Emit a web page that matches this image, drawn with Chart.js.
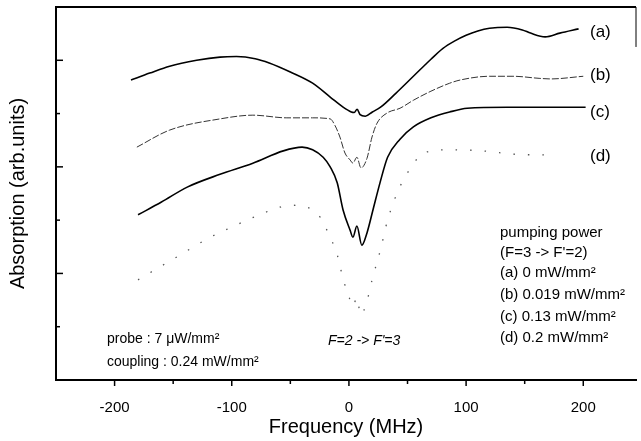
<!DOCTYPE html>
<html>
<head>
<meta charset="utf-8">
<script src="https://cdn.jsdelivr.net/npm/chart.js@4.4.0/dist/chart.umd.min.js"></script>
<style>
  body { margin: 0; background: #fff; }
</style>
</head>
<body>
<canvas id="grafico" width="641" height="441"></canvas>
<script>
// curva (a) 0 mW/mm2
const frecuencia_a = [-186, -170, -153, -130, -110, -96, -80, -68, -50, -31, -16, -5, 2, 4.5, 7, 9.5, 14, 20, 27, 40, 55, 70, 80, 90, 100, 110, 120, 135, 148, 155, 167.5, 180, 196]
const absorcion_a = [5.63, 5.76, 5.89, 6.00, 6.06, 6.07, 6.03, 5.95, 5.78, 5.57, 5.31, 5.12, 5.03, 5.02, 5.08, 4.98, 4.95, 5.03, 5.12, 5.38, 5.70, 6.02, 6.22, 6.36, 6.47, 6.55, 6.60, 6.62, 6.57, 6.51, 6.44, 6.51, 6.59]
// curva (b) 0.019 mW/mm2
const frecuencia_b = [-181, -153, -110, -82, -53, -31, -16, -12, -7.7, -3.4, 1, 3.4, 6.8, 10.3, 15.4, 19.7, 24, 32.5, 43.6, 55, 70, 86, 95, 120, 140, 163, 172, 200]
const absorcion_b = [4.37, 4.69, 4.90, 4.97, 4.92, 4.92, 4.90, 4.78, 4.56, 4.26, 4.13, 4.07, 4.18, 3.98, 4.16, 4.56, 4.82, 5.01, 5.10, 5.25, 5.42, 5.57, 5.63, 5.70, 5.70, 5.66, 5.65, 5.70]
// curva (c) 0.13 mW/mm2
const frecuencia_c = [-180, -160, -138, -110, -82, -56, -40, -31, -22, -16, -10, -5, 1, 3.4, 6.8, 11, 15.4, 20.5, 26.5, 33, 43.6, 55, 70, 86, 101, 135, 170, 202]
const absorcion_c = [3.10, 3.34, 3.62, 3.86, 4.07, 4.30, 4.37, 4.32, 4.18, 4.00, 3.70, 3.19, 2.81, 2.68, 2.89, 2.53, 2.76, 3.19, 3.70, 4.18, 4.52, 4.75, 4.92, 5.03, 5.10, 5.12, 5.12, 5.12]
// curva (d) 0.2 mW/mm2
const frecuencia_d = [-180, -160, -143, -120, -100, -89, -66, -50, -37, -26, -22, -16, -10, -5, 1, 3.4, 6.8, 10, 15, 20, 27, 33, 44, 55, 62, 84, 114, 139, 174]
const absorcion_d = [1.88, 2.14, 2.36, 2.66, 2.87, 2.98, 3.19, 3.28, 3.25, 3.10, 2.95, 2.68, 2.35, 1.90, 1.50, 1.38, 1.55, 1.22, 1.45, 1.90, 2.45, 3.00, 3.65, 4.05, 4.24, 4.32, 4.30, 4.24, 4.22]

const ticks_x_mayores = [-200, -100, 0, 100, 200]
const ticks_x_menores = [-150, -50, 50, 150]
const ticks_y_mayores = [2, 4, 6]
const ticks_y_menores = [1, 3, 5]

const etiquetas_curvas = ["(a)", "(b)", "(c)", "(d)"]
const posicion_etiquetas = [32, 75, 112, 156]
const texto_bombeo = ["pumping power", "(F=3 -> F'=2)", "(a) 0 mW/mm²", "(b) 0.019 mW/mm²", "(c) 0.13 mW/mm²", "(d) 0.2 mW/mm²"]
const posicion_bombeo = [233, 253, 273, 295, 317, 338]
const texto_sonda = ["probe : 7 μW/mm²", "coupling : 0.24 mW/mm²"]
const posicion_sonda = [339, 362]
const texto_transicion = "F=2 -> F'=3"

const fuente = '"Liberation Sans", Arial, Helvetica, sans-serif'

function hacer_puntos(xs, ys) {
    var puntos = []
    for (var i = 0; i < xs.length; i++) {
        puntos.push({ x: xs[i], y: ys[i] })
    }
    return puntos
}

const extras = {
    id: 'extras',
    afterDatasetsDraw(chart) {
        const ctx = chart.ctx
        const area = chart.chartArea
        const sx = chart.scales.x
        const sy = chart.scales.y
        ctx.save()
        ctx.strokeStyle = '#000'
        ctx.fillStyle = '#000'

        // marco de arriba y pedazo del lado derecho
        ctx.lineWidth = 2
        ctx.beginPath()
        ctx.moveTo(area.left, area.top)
        ctx.lineTo(area.right, area.top)
        ctx.stroke()
        ctx.lineWidth = 1
        ctx.beginPath()
        ctx.moveTo(area.right, area.top)
        ctx.lineTo(area.right, sy.getPixelForValue(6.25))
        ctx.stroke()

        // ticks del eje y hacia adentro
        ctx.lineWidth = 1.5
        for (const v of ticks_y_mayores) {
            const py = sy.getPixelForValue(v)
            ctx.beginPath(); ctx.moveTo(area.left, py); ctx.lineTo(area.left + 7, py); ctx.stroke()
        }
        for (const v of ticks_y_menores) {
            const py = sy.getPixelForValue(v)
            ctx.beginPath(); ctx.moveTo(area.left, py); ctx.lineTo(area.left + 4, py); ctx.stroke()
        }
        // ticks del eje x hacia afuera
        for (const v of ticks_x_mayores) {
            const px = sx.getPixelForValue(v)
            ctx.beginPath(); ctx.moveTo(px, area.bottom); ctx.lineTo(px, area.bottom + 6); ctx.stroke()
        }
        for (const v of ticks_x_menores) {
            const px = sx.getPixelForValue(v)
            ctx.beginPath(); ctx.moveTo(px, area.bottom); ctx.lineTo(px, area.bottom + 4); ctx.stroke()
        }

        ctx.textBaseline = 'middle'
        ctx.textAlign = 'left'
        ctx.font = '17px ' + fuente
        for (var i = 0; i < etiquetas_curvas.length; i++) {
            ctx.fillText(etiquetas_curvas[i], 590, posicion_etiquetas[i])
        }
        ctx.font = '15px ' + fuente
        for (var i = 0; i < texto_bombeo.length; i++) {
            ctx.fillText(texto_bombeo[i], 500, posicion_bombeo[i])
        }
        ctx.font = '14px ' + fuente
        for (var i = 0; i < texto_sonda.length; i++) {
            ctx.fillText(texto_sonda[i], 107, posicion_sonda[i])
        }
        ctx.font = 'italic 14px ' + fuente
        ctx.fillText(texto_transicion, 328, 341)
        ctx.restore()
    }
}

function crear_grafico() {
    const $grafica = document.querySelector('#grafico')
    new Chart($grafica, {
        type: 'line',
        data: {
            datasets: [
                { label: '(a)', data: hacer_puntos(frecuencia_a, absorcion_a), borderColor: '#000', borderWidth: 1.6 },
                { label: '(b)', data: hacer_puntos(frecuencia_b, absorcion_b), borderColor: '#333', borderWidth: 1, borderDash: [7, 2] },
                { label: '(c)', data: hacer_puntos(frecuencia_c, absorcion_c), borderColor: '#000', borderWidth: 1.6 },
                { label: '(d)', data: hacer_puntos(frecuencia_d, absorcion_d), borderColor: '#555', borderWidth: 1.3, borderDash: [1.5, 13] }
            ]
        },
        options: {
            responsive: false,
            animation: false,
            layout: { padding: { left: 0, right: 5, top: 7, bottom: 0 } },
            elements: {
                point: { radius: 0 },
                line: { cubicInterpolationMode: 'monotone', fill: false }
            },
            plugins: {
                legend: { display: false },
                tooltip: { enabled: false }
            },
            scales: {
                x: {
                    type: 'linear',
                    min: -250,
                    max: 245,
                    afterBuildTicks: (s) => { s.ticks = ticks_x_mayores.map(v => ({ value: v })) },
                    afterFit: (s) => { s.height = 61 },
                    grid: { display: false },
                    border: { display: true, color: '#000', width: 2 },
                    ticks: { color: '#000', padding: 11, maxRotation: 0, font: { family: fuente, size: 15 } },
                    title: { display: true, text: 'Frequency (MHz)', color: '#000', padding: { top: 0, bottom: 2 }, font: { family: fuente, size: 20 } }
                },
                y: {
                    type: 'linear',
                    min: 0,
                    max: 7,
                    afterFit: (s) => { s.width = 56 },
                    grid: { display: false },
                    border: { display: true, color: '#000', width: 2 },
                    ticks: { display: false },
                    title: { display: true, text: 'Absorption (arb.units)', color: '#000', padding: { top: 6, bottom: 0 }, font: { family: fuente, size: 20 } }
                }
            }
        },
        plugins: [extras]
    })
}

crear_grafico()
</script>
</body>
</html>
